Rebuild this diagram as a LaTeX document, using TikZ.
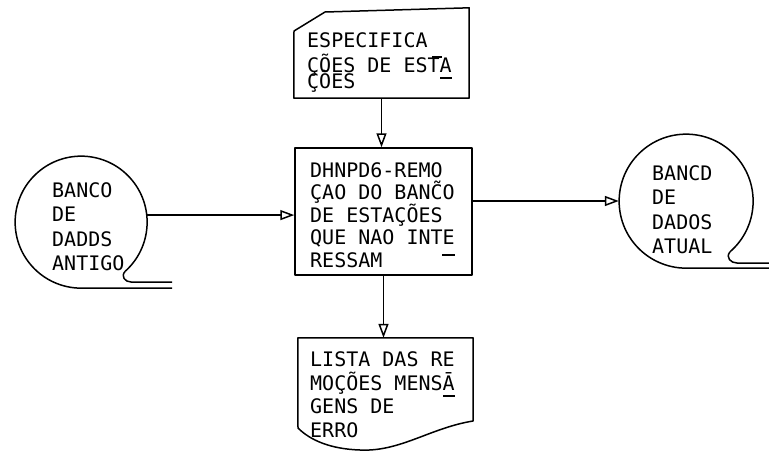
\documentclass[tikz,border=0pt]{standalone}
\usepackage{fontspec}
\newfontfamily\tw{DejaVu Sans Mono}
\usetikzlibrary{arrows.meta}
\begin{document}
\begin{tikzpicture}[x=1pt,y=1pt,
  line/.style={line width=1.5pt, line join=round},
  arr/.style={line width=1.5pt, -{Triangle[open,length=14pt,width=10pt]}},
  txt/.style={font=\tw\fontsize{20}{#1}\selectfont, anchor=north west, inner sep=0pt, align=left},
  accbar/.style={line width=1.2pt}]
\useasboundingbox (0,0) rectangle (769,-459);

% shapes (named)
\node[minimum width=175pt, minimum height=90pt, inner sep=0pt] (spec) at (381.5,-53) {};
\node[line, draw, rectangle, minimum width=177pt, minimum height=127pt, inner sep=0pt] (proc) at (383.5,-211.5) {};
\node[circle, minimum size=132pt, inner sep=0pt] (dbold) at (81,-222) {};
\node[circle, minimum size=134pt, inner sep=0pt] (dbnew) at (686,-201) {};
\node[minimum width=175pt, minimum height=111pt, inner sep=0pt] (doc) at (385.5,-393.5) {};

% punched card
\draw[line] (spec.south west) -- (294,-31) -- (325,-12) -- (spec.north east) -- (spec.south east) -- cycle;

% tape, old database
\draw[line] (dbold.-48) arc[start angle=-48, end angle=270, radius=66pt] -- (172,-288);
\draw[line] (dbold.-48) .. controls +(-5,-5) and +(-6,0) .. (131,-282) -- (172,-282);

% tape, new database
\draw[line] (dbnew.-49) arc[start angle=-49, end angle=270, radius=67pt] -- (769,-268);
\draw[line] (dbnew.-49) .. controls +(-5,-6) and +(-6,0) .. (737,-263) -- (769,-263);

% document
\draw[line] (doc.north west) -- (doc.north east) -- (473,-421)
  .. controls (430,-428) and (400,-452) .. (360,-450)
  .. controls (330,-449) and (310,-440) .. (298,-428) -- cycle;

% connectors
\draw[arr] (spec.south) -- (spec.south |- proc.north);
\draw[arr] (dbold.6) -- (dbold.6 -| proc.west);
\draw[arr] (proc.east |- dbnew.west) -- (dbnew.west);
\draw[arr] (proc.south) -- (proc.south |- doc.north);

% texts
\node[txt=25] (tspec) at (307,-32.4) {ESPECIFICA\\ÇÕES DE ESTA\\[-9pt]ÇÕES};
\draw[accbar] (432,-57) -- (442,-57);
\draw[accbar] (440,-78) -- (452,-78);

\node[txt=22.5] (tproc) at (310,-162.4) {DHNPD6-REMO\\ÇAO DO BANC̃O\\DE ESTAÇÕES\\QUE NAO INTE\\RESSAM};
\draw[accbar] (442,-255) -- (455,-255);

\node[txt=24.3] (told) at (52,-182.4) {BANCO\\DE\\DADDS\\ANTIGO};
\node[txt=24.3] (tnew) at (652,-165.4) {BANCD\\DE\\DADOS\\ATUAL};

\node[txt=23.7] (tdoc) at (310,-351.4) {LISTA DAS RE\\MOÇÕES MENSĀ\\GENS DE\\ERRO};
\draw[accbar] (443,-396) -- (455,-396);
\end{tikzpicture}
\end{document}
